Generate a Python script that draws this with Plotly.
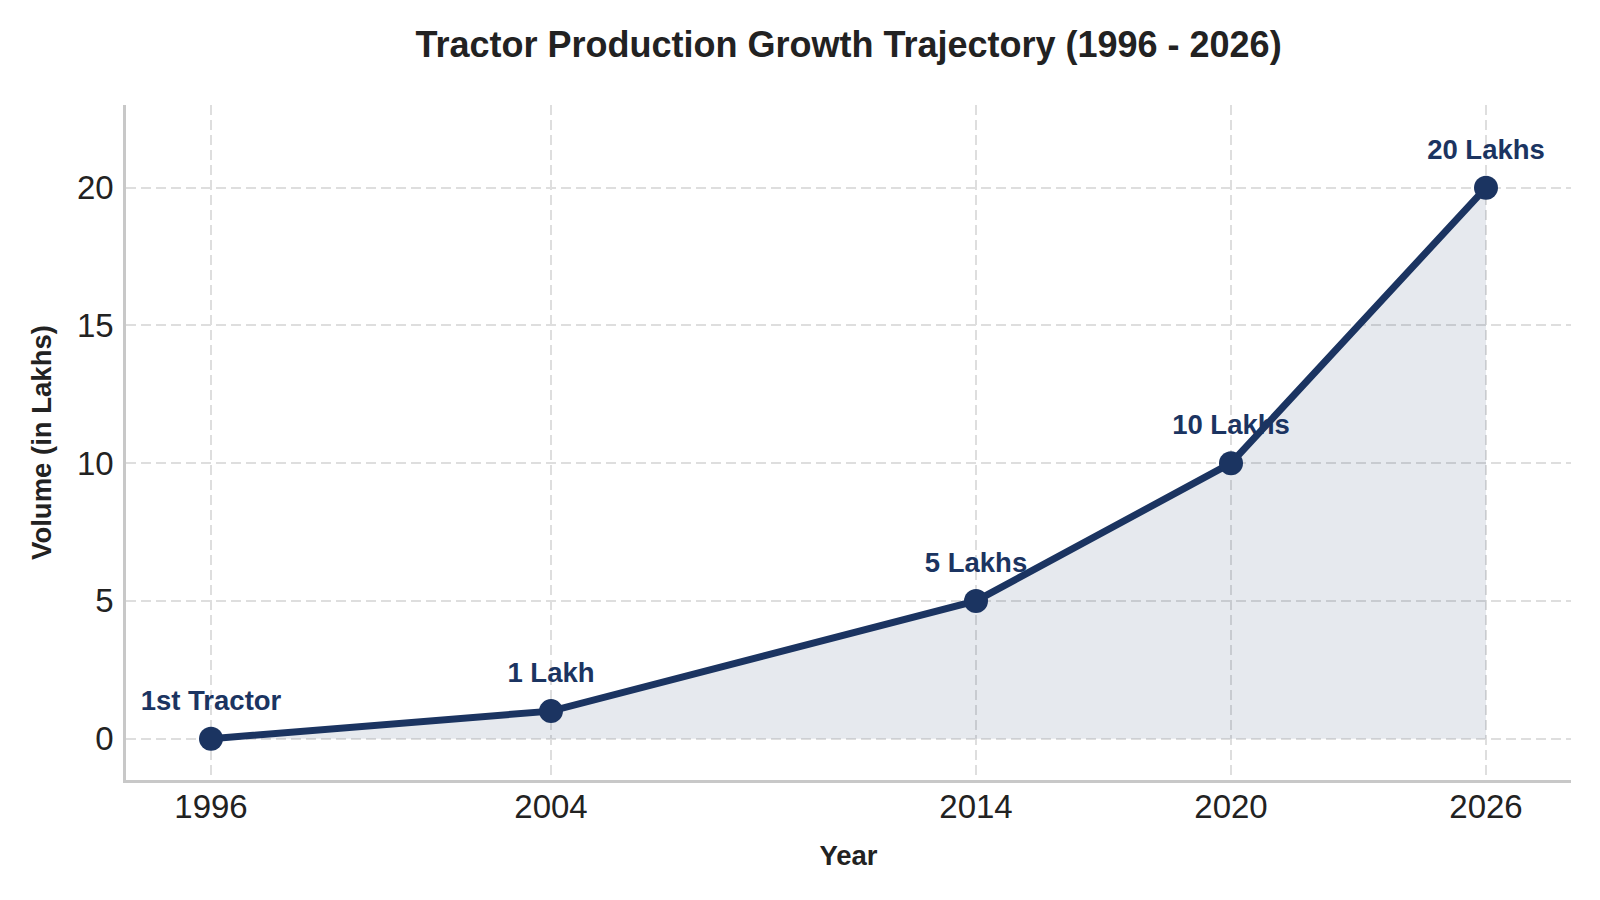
import plotly.graph_objects as go

years = [1996, 2004, 2014, 2020, 2026]
volume_lakhs = [0, 1, 5, 10, 20]
point_labels = ["1st Tractor", "1 Lakh", "5 Lakhs", "10 Lakhs", "20 Lakhs"]

NAVY = "#1B3461"
GRID = "#DEDEDE"
FONT = "Liberation Sans, Arial, sans-serif"

fig = go.Figure()

# labels first so the line is drawn over them, as in the reference
fig.add_trace(go.Scatter(
    x=years, y=volume_lakhs, mode="markers+text", text=point_labels,
    textposition="top center",
    textfont=dict(family=FONT, size=27.5, color=NAVY, weight="bold"),
    marker=dict(size=34, opacity=0), hoverinfo="skip", showlegend=False,
))

fig.add_trace(go.Scatter(
    x=years, y=volume_lakhs, mode="lines+markers",
    line=dict(color=NAVY, width=7),
    marker=dict(size=24, color=NAVY),
    fill="tozeroy", fillcolor="rgba(27,52,97,0.11)",
    showlegend=False,
))

# page body has an 8px margin, so keep the figure inside the 1600x900 window
fig.update_layout(
    width=1584, height=884,
    paper_bgcolor="white", plot_bgcolor="white",
    margin=dict(l=118, r=21, t=97, b=112),
    font=dict(family=FONT, color="#222222"),
    title=dict(text="<b>Tractor Production Growth Trajectory (1996 - 2026)</b>",
               x=0.5, xref="paper", xanchor="center",
               y=1 - 36 / 884, yref="container", yanchor="middle",
               font=dict(size=36, color="#222222")),
)

fig.update_xaxes(
    range=[1994, 2028], tickvals=years, ticktext=[str(y) for y in years],
    tickfont=dict(size=33, color="#222222"),
    showgrid=True, gridcolor=GRID, griddash="10px,5px", gridwidth=1.5,
    showline=True, linecolor="#C8C8C8", linewidth=2.5, zeroline=False,
    ticks="", ticklabelstandoff=-4,
    title=dict(text="<b>Year</b>", font=dict(size=27.5, color="#222222"), standoff=22),
)
fig.update_yaxes(
    range=[-1.5, 23], tickvals=[0, 5, 10, 15, 20],
    tickfont=dict(size=33, color="#222222"),
    showgrid=True, gridcolor=GRID, griddash="10px,5px", gridwidth=1.5,
    showline=True, linecolor="#C8C8C8", linewidth=2.5, zeroline=False,
    ticks="outside", ticklen=3, tickcolor="white",
    title=dict(text="<b>Volume (in Lakhs)</b>", font=dict(size=27.5, color="#222222"), standoff=18),
)

fig.write_html("out.html")
